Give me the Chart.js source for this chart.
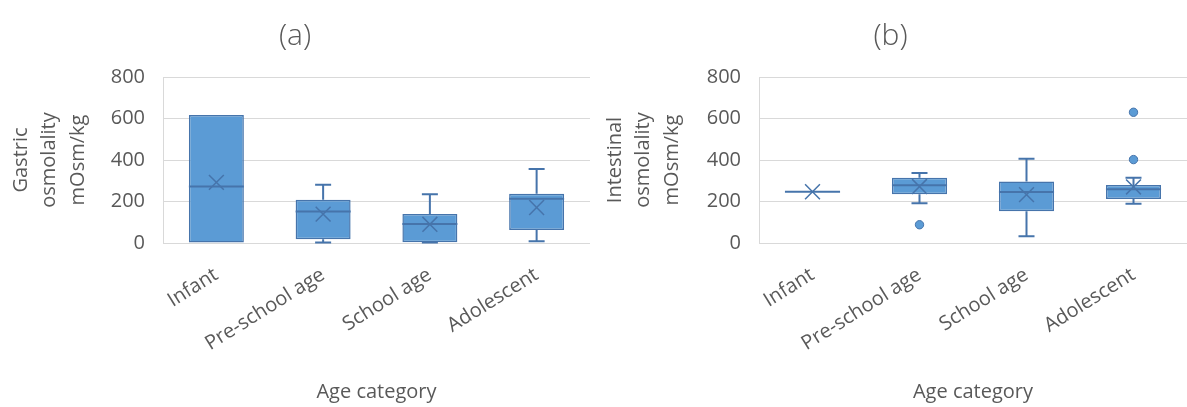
<!DOCTYPE html>
<html>
<head>
<meta charset="utf-8">
<script src="https://cdn.jsdelivr.net/npm/chart.js@4.4.0/dist/chart.umd.min.js"></script>
<style>
  html, body { margin: 0; padding: 0; background: #ffffff; }
  #wrap { position: relative; width: 1187px; height: 407px; overflow: hidden; }
  #c1 { position: absolute; left: 0; top: 0; }
  #c2 { position: absolute; left: 594px; top: 0; }
</style>
</head>
<body>
<div id="wrap">
  <canvas id="c1" width="594" height="407"></canvas>
  <canvas id="c2" width="593" height="407"></canvas>
</div>
<script>
// ---- Data ----
const categories = ['Infant', 'Pre-school age', 'School age', 'Adolescent'];
const yTickLabels = [0, 200, 400, 600, 800];

// (a) Gastric osmolality (mOsm/kg)
const gastricMin      = [0,   3,   3,   8];
const gastricQ1       = [0,   18,  4,   63];
const gastricMedian   = [272, 152, 92,  213];
const gastricQ3       = [617, 209, 140, 237];
const gastricMax      = [617, 281, 235, 357];
const gastricMean     = [292, 139, 90,  171];
const gastricOutliers = [[], [], [], []];

// (b) Intestinal osmolality (mOsm/kg)
const intestinalMin      = [247, 191, 32,  189];
const intestinalQ1       = [247, 235, 153, 212];
const intestinalMedian   = [247, 278, 246, 259];
const intestinalQ3       = [247, 315, 296, 280];
const intestinalMax      = [247, 337, 406, 314];
const intestinalMean     = [247, 272, 233, 270];
const intestinalOutliers = [[], [88], [], [630, 402]];

// ---- Styling ----
const FILL = '#5B9BD5';
const LINE = '#4674AB';
const TEXT = '#595959';
const GRID = '#D9D9D9';
const FONT = "'Open Sans', 'Noto Sans', 'DejaVu Sans', sans-serif";

Chart.defaults.font.family = FONT;
Chart.defaults.color = TEXT;

// Plugin drawing whiskers and medians through the chart's own scales
const boxWhiskerPlugin = {
  id: 'boxWhisker',
  afterDatasetsDraw(chart, args, opts) {
    const s = opts.stats;
    if (!s) return;
    const y = chart.scales.y;
    const meta = chart.getDatasetMeta(0);
    const ctx = chart.ctx;
    ctx.save();
    ctx.strokeStyle = LINE;
    ctx.lineCap = 'butt';
    meta.data.forEach((bar, i) => {
      const p = bar.getProps(['x', 'width'], true);
      const cx = p.x, half = p.width / 2, cap = 8;
      const yq1 = y.getPixelForValue(s.q1[i]);
      const yq3 = y.getPixelForValue(s.q3[i]);
      const ymin = y.getPixelForValue(s.min[i]);
      const ymax = y.getPixelForValue(s.max[i]);
      const ymed = y.getPixelForValue(s.median[i]);
      ctx.lineWidth = 2;
      ctx.beginPath();
      if (s.max[i] > s.q3[i]) {
        ctx.moveTo(cx, yq3); ctx.lineTo(cx, ymax);
        ctx.moveTo(cx - cap, ymax); ctx.lineTo(cx + cap, ymax);
      }
      if (s.min[i] < s.q1[i]) {
        ctx.moveTo(cx, yq1); ctx.lineTo(cx, ymin);
        ctx.moveTo(cx - cap, ymin); ctx.lineTo(cx + cap, ymin);
      }
      ctx.stroke();
      ctx.lineWidth = 2;
      ctx.beginPath();
      ctx.moveTo(cx - half, ymed); ctx.lineTo(cx + half, ymed);
      ctx.stroke();
    });
    ctx.restore();
  }
};

function makeChart(canvasId, panelTitle, yTitle, stats, yAxisWidth, rightPad) {
  const outlierPoints = [];
  stats.outliers.forEach((arr, i) => arr.forEach(v => outlierPoints.push({ x: categories[i], y: v })));
  const ctx = document.getElementById(canvasId).getContext('2d');
  return new Chart(ctx, {
    type: 'bar',
    data: {
      labels: categories,
      datasets: [
        {
          type: 'bar',
          data: categories.map((c, i) => [stats.q1[i], stats.q3[i]]),
          backgroundColor: FILL,
          borderColor: LINE,
          borderWidth: 1.5,
          borderSkipped: false,
          barPercentage: 0.515,
          categoryPercentage: 1,
          order: 3
        },
        {
          type: 'line',
          data: stats.mean,
          showLine: false,
          pointStyle: 'crossRot',
          pointRadius: 10.5,
          borderColor: LINE,
          backgroundColor: 'rgba(0,0,0,0)',
          borderWidth: 1.5,
          order: 1
        },
        {
          type: 'line',
          data: outlierPoints,
          showLine: false,
          pointStyle: 'circle',
          pointRadius: 4.2,
          backgroundColor: FILL,
          borderColor: LINE,
          borderWidth: 1,
          order: 2
        }
      ]
    },
    options: {
      responsive: false,
      animation: false,
      devicePixelRatio: 1,
      events: [],
      layout: { autoPadding: false, padding: { left: 0, right: rightPad, top: 0, bottom: 0 } },
      plugins: {
        legend: { display: false },
        tooltip: { enabled: false },
        title: {
          display: true,
          text: panelTitle,
          color: TEXT,
          font: { size: 30, weight: '300', lineHeight: 1.2 },
          padding: { top: 18, bottom: 23 }
        },
        boxWhisker: { stats: stats }
      },
      scales: {
        x: {
          grid: { display: false },
          border: { display: false },
          ticks: {
            minRotation: 32,
            maxRotation: 32,
            padding: 12,
            color: TEXT,
            font: { size: 20 }
          },
          title: {
            display: true,
            text: 'Age category',
            color: TEXT,
            font: { size: 20, lineHeight: 1.2 },
            padding: { top: 0, bottom: 3 }
          },
          afterFit(scale) {
            scale.height = 164;
            scale.paddingLeft = 0;
            scale.paddingRight = 0;
          }
        },
        y: {
          min: yTickLabels[0],
          max: yTickLabels[yTickLabels.length - 1],
          ticks: {
            stepSize: yTickLabels[1] - yTickLabels[0],
            padding: 18,
            color: TEXT,
            font: { size: 20 }
          },
          grid: { color: GRID, lineWidth: 1, drawTicks: false },
          border: { display: true, color: GRID, width: 1 },
          title: {
            display: true,
            text: yTitle,
            color: TEXT,
            font: { size: 20, lineHeight: 1.42 },
            padding: { top: 7, bottom: 0 }
          },
          afterFit(scale) { scale.width = yAxisWidth; }
        }
      }
    },
    plugins: [boxWhiskerPlugin]
  });
}

makeChart('c1', '(a)', ['Gastric', 'osmolality', 'mOsm/kg'], {
  min: gastricMin, q1: gastricQ1, median: gastricMedian, q3: gastricQ3,
  max: gastricMax, mean: gastricMean, outliers: gastricOutliers
}, 163, 4);

makeChart('c2', '(b)', ['Intestinal', 'osmolality', 'mOsm/kg'], {
  min: intestinalMin, q1: intestinalQ1, median: intestinalMedian, q3: intestinalQ3,
  max: intestinalMax, mean: intestinalMean, outliers: intestinalOutliers
}, 165, 0);
</script>
</body>
</html>
